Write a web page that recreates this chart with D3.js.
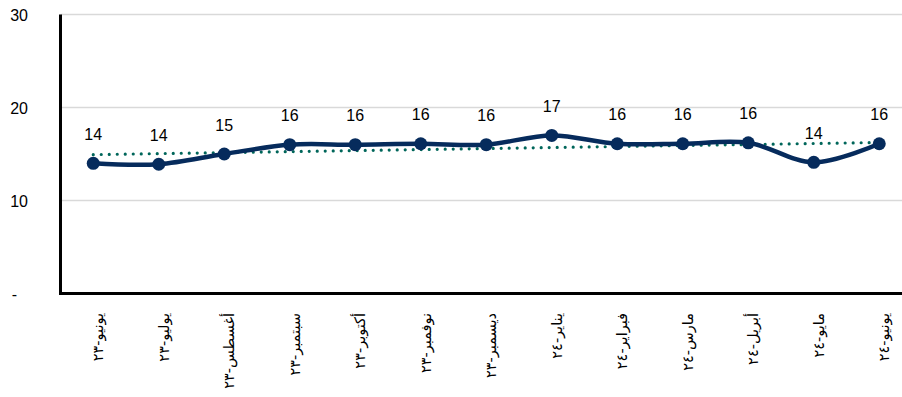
<!DOCTYPE html>
<html><head><meta charset="utf-8">
<script src="https://cdn.jsdelivr.net/npm/d3@7"></script>
<style>html,body{margin:0;padding:0;background:#fff;overflow:hidden}</style>
</head><body>
<svg id="c" width="902" height="397"></svg>
<script>
const categories = ["يونيو-٢٣","يوليو-٢٣","أغسطس-٢٣","سبتمبر-٢٣","أكتوبر-٢٣","نوفمبر-٢٣","ديسمبر-٢٣","يناير-٢٤","فبراير-٢٤","مارس-٢٤","أبريل-٢٤","مايو-٢٤","يونيو-٢٤"];
const values = [14.0, 13.9, 15.0, 16.0, 16.0, 16.1, 16.0, 17.0, 16.1, 16.1, 16.2, 14.1, 16.1];
const yTicks = [0, 10, 20, 30];
const yTickLabels = ["-", "10", "20", "30"];

(function () {
const svg = d3.select("#c");
const W = 902, H = 397;
const mLeft = 60.5, mTop = 14.5, mBottom = 293.5, mRight = 912;

const x = d3.scaleBand().domain(categories).range([mLeft, mRight]);
const y = d3.scaleLinear().domain([0, 30]).range([mBottom, mTop]);
const cx = d => x(d) + x.bandwidth() / 2;

// gridlines
svg.append("g").selectAll("line").data(yTicks.filter(t => t > 0)).join("line")
  .attr("x1", mLeft).attr("x2", W).attr("y1", d => y(d)).attr("y2", d => y(d))
  .attr("stroke", "#d9d9d9").attr("stroke-width", 1.5);

// y tick labels
svg.append("g").selectAll("text").data(yTicks).join("text")
  .attr("x", d => d === 0 ? 17 : 28).attr("y", d => y(d) + 1).attr("dy", "0.35em")
  .attr("text-anchor", "end")
  .attr("font-family", "Liberation Sans, Arial, sans-serif").attr("font-size", 16).attr("fill", "#000")
  .text((d, i) => yTickLabels[i]);

// axes
svg.append("line").attr("x1", mLeft).attr("x2", mLeft).attr("y1", mTop).attr("y2", mBottom + 1.5)
  .attr("stroke", "#000").attr("stroke-width", 3);
svg.append("line").attr("x1", mLeft - 1.5).attr("x2", W).attr("y1", mBottom).attr("y2", mBottom)
  .attr("stroke", "#000").attr("stroke-width", 3);

// x labels
svg.append("g").selectAll("text").data(categories).join("text")
  .attr("transform", d => `translate(${cx(d) + 5},313) rotate(-90)`)
  .attr("dy", "0.35em").attr("text-anchor", "end")
  .attr("font-family", "DejaVu Sans, sans-serif").attr("font-size", 14.5).attr("fill", "#000")
  .text(d => d);

// trend line (linear regression, as the chart's trendline)
const n = values.length;
const xs = d3.range(n);
const mx = d3.mean(xs), my = d3.mean(values);
const slope = d3.sum(xs, i => (i - mx) * (values[i] - my)) / d3.sum(xs, i => (i - mx) ** 2);
const icpt = my - slope * mx;
svg.append("line")
  .attr("x1", cx(categories[0])).attr("y1", y(icpt))
  .attr("x2", cx(categories[n - 1])).attr("y2", y(icpt + slope * (n - 1)))
  .attr("stroke", "#00665a").attr("stroke-width", 3.2)
  .attr("stroke-linecap", "round").attr("stroke-dasharray", "0,8");

// main line
const line = d3.line().x((d, i) => cx(categories[i])).y(d => y(d)).curve(d3.curveCatmullRom.alpha(0.5));
svg.append("path").datum(values).attr("d", line)
  .attr("fill", "none").attr("stroke", "#062b5c").attr("stroke-width", 4.5).attr("stroke-linejoin", "round");

svg.append("g").selectAll("circle").data(values).join("circle")
  .attr("cx", (d, i) => cx(categories[i])).attr("cy", d => y(d)).attr("r", 6.5)
  .attr("fill", "#062b5c");

// data labels
svg.append("g").selectAll("text").data(values).join("text")
  .attr("x", (d, i) => cx(categories[i])).attr("y", d => y(d) - 29).attr("dy", "0.35em")
  .attr("text-anchor", "middle")
  .attr("font-family", "Liberation Sans, Arial, sans-serif").attr("font-size", 16).attr("fill", "#000")
  .text(d => d3.format(".0f")(d));
})();
</script>
</body></html>
